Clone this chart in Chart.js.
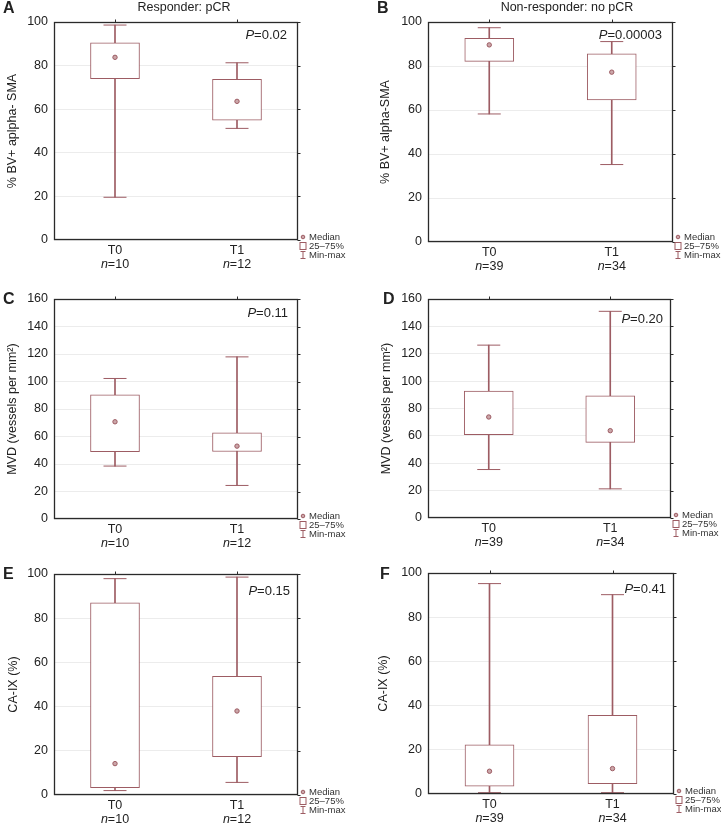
<!DOCTYPE html>
<html>
<head>
<meta charset="utf-8">
<script src="https://cdn.jsdelivr.net/npm/chart.js@4.4.1/dist/chart.umd.min.js"></script>
<style>
  body { margin: 0; background: #fff; }
  #wrap { position: relative; width: 721px; height: 827px; }
  canvas { position: absolute; }
</style>
</head>
<body>
<div id="wrap">
  <canvas id="pA" width="360" height="270" style="left:0;top:0"></canvas>
  <canvas id="pB" width="361" height="270" style="left:360px;top:0"></canvas>
  <canvas id="pC" width="360" height="280" style="left:0;top:270px"></canvas>
  <canvas id="pD" width="361" height="280" style="left:360px;top:270px"></canvas>
  <canvas id="pE" width="360" height="277" style="left:0;top:550px"></canvas>
  <canvas id="pF" width="361" height="277" style="left:360px;top:550px"></canvas>
</div>
<script>
const categories = ['T0', 'T1'];
const nResponder = ['10', '12'];
const nNonResponder = ['39', '34'];

// A - responder, % BV+ alpha-SMA
const smaRespMin = [19.6, 51.2];
const smaRespQ1 = [74.0, 55.0];
const smaRespMed = [83.8, 63.6];
const smaRespQ3 = [90.4, 73.7];
const smaRespMax = [98.6, 81.3];
// B - non-responder, % BV+ alpha-SMA
const smaNonMin = [58.2, 35.2];
const smaNonQ1 = [82.1, 64.6];
const smaNonMed = [89.6, 77.2];
const smaNonQ3 = [92.6, 85.5];
const smaNonMax = [97.4, 91.1];
// C - responder, MVD
const mvdRespMin = [38.5, 24.4];
const mvdRespQ1 = [48.9, 49.1];
const mvdRespMed = [70.7, 53.0];
const mvdRespQ3 = [90.3, 62.7];
const mvdRespMax = [102.2, 117.9];
// D - non-responder, MVD
const mvdNonMin = [35.4, 21.3];
const mvdNonQ1 = [60.8, 55.2];
const mvdNonMed = [73.8, 63.8];
const mvdNonQ3 = [92.8, 89.2];
const mvdNonMax = [126.3, 151.0];
// E - responder, CA-IX
const caRespMin = [2.0, 5.7];
const caRespQ1 = [3.3, 17.3];
const caRespMed = [14.2, 38.0];
const caRespQ3 = [86.9, 53.7];
const caRespMax = [97.9, 98.6];
// F - non-responder, CA-IX
const caNonMin = [0.6, 0.6];
const caNonQ1 = [3.5, 4.7];
const caNonMed = [10.3, 11.5];
const caNonQ3 = [22.2, 35.6];
const caNonMax = [95.2, 90.2];

const pValues = ['0.02', '0.00003', '0.11', '0.20', '0.15', '0.41'];
const legendLabels = ['Median', '25\u201375%', 'Min-max'];

const FONT = "'Liberation Sans', Arial, Helvetica, sans-serif";
const BOX = '#9d5c63';
const MED_FILL = '#cba6a9';
const INK = '#222';

// frame, panel letter, title, p value, n labels and the little legend
const decor = {
  id: 'decor',
  afterDraw(chart, args, o) {
    const ctx = chart.ctx, a = chart.chartArea;
    const xs = chart.scales.x, ys = chart.scales.y;
    ctx.save();
    const L = Math.round(a.left) + 0.5, R = Math.round(a.right) - 0.5;
    const T = Math.round(a.top) + 0.5, B = Math.round(a.bottom) - 0.5;
    ctx.strokeStyle = '#2a2a2a';
    ctx.lineWidth = 1.3;
    ctx.strokeRect(L, T, R - L, B - T);
    ctx.lineWidth = 1;
    ctx.beginPath();
    categories.forEach((c, i) => {
      const px = Math.round(xs.getPixelForValue(i)) + 0.5;
      ctx.moveTo(px, T); ctx.lineTo(px, T - 3);
    });
    ys.ticks.forEach(t => {
      const py = Math.round(ys.getPixelForValue(t.value)) + 0.5;
      ctx.moveTo(R, py); ctx.lineTo(R + 3, py);
    });
    ctx.stroke();

    ctx.fillStyle = INK;
    ctx.textBaseline = 'middle';
    // panel letter
    ctx.font = 'bold 16px ' + FONT;
    ctx.textAlign = 'left';
    ctx.fillText(o.letter, o.letterX, o.letterY);
    // group title
    if (o.title) {
      ctx.font = '12.5px ' + FONT;
      ctx.textAlign = 'center';
      ctx.fillText(o.title, o.titleX, 8);
    }
    // p value, italic P
    ctx.textAlign = 'left';
    ctx.font = '13px ' + FONT;
    const rest = '=' + o.p;
    const wRest = ctx.measureText(rest).width;
    ctx.font = 'italic 13px ' + FONT;
    const wP = ctx.measureText('P').width;
    const px0 = a.right - o.pDx - wRest - wP;
    const py0 = a.top + o.pDy;
    ctx.fillText('P', px0, py0);
    ctx.font = '13px ' + FONT;
    ctx.fillText(rest, px0 + wP, py0);
    // n labels under categories
    o.n.forEach((n, i) => {
      const cx = xs.getPixelForValue(i);
      ctx.font = 'italic 12.5px ' + FONT;
      const wn = ctx.measureText('n').width;
      ctx.font = '12.5px ' + FONT;
      const wv = ctx.measureText('=' + n).width;
      const sx = cx - (wn + wv) / 2;
      ctx.font = 'italic 12.5px ' + FONT;
      ctx.fillText('n', sx, a.bottom + 25);
      ctx.font = '12.5px ' + FONT;
      ctx.fillText('=' + n, sx + wn, a.bottom + 25);
    });
    // legend
    const lx = a.right + 5, tx = a.right + 11;
    const ly = [a.bottom + o.legDy, a.bottom + o.legDy + 9, a.bottom + o.legDy + 18];
    ctx.font = '9.5px ' + FONT;
    ctx.fillStyle = '#333';
    legendLabels.forEach((lab, i) => ctx.fillText(lab, tx, ly[i]));
    ctx.strokeStyle = BOX;
    ctx.fillStyle = MED_FILL;
    ctx.beginPath();
    ctx.arc(lx, ly[0], 1.8, 0, Math.PI * 2);
    ctx.fill(); ctx.stroke();
    ctx.strokeRect(lx - 3, ly[1] - 3.5, 6, 7);
    ctx.beginPath();
    ctx.moveTo(lx - 2.5, ly[2] - 3.5); ctx.lineTo(lx + 2.5, ly[2] - 3.5);
    ctx.moveTo(lx, ly[2] - 3.5); ctx.lineTo(lx, ly[2] + 3.5);
    ctx.moveTo(lx - 2.5, ly[2] + 3.5); ctx.lineTo(lx + 2.5, ly[2] + 3.5);
    ctx.stroke();
    ctx.restore();
  }
};

function boxPanel(id, s, lay) {
  const caps = (vals) => ({
    type: 'line', data: vals, showLine: false,
    pointStyle: 'line', pointRadius: 11.5, pointHoverRadius: 11.5,
    borderColor: BOX, pointBorderColor: BOX, pointBorderWidth: 1
  });
  return new Chart(document.getElementById(id), {
    type: 'bar',
    data: {
      labels: categories,
      datasets: [
        { type: 'line', data: s.med, showLine: false, pointStyle: 'circle',
          pointRadius: 2.2, pointBorderWidth: 1, pointBorderColor: BOX,
          pointBackgroundColor: MED_FILL },
        { data: s.q1.map((v, i) => [v, s.q3[i]]), backgroundColor: '#fff',
          borderColor: BOX, borderWidth: 1, borderSkipped: false,
          barThickness: 49, grouped: false },
        { data: s.min.map((v, i) => [v, s.max[i]]), backgroundColor: BOX,
          borderWidth: 0, barThickness: 1, grouped: false },
        caps(s.max),
        caps(s.min)
      ]
    },
    options: {
      responsive: false,
      animation: false,
      events: [],
      layout: { padding: { top: lay.top, right: lay.right, left: 0, bottom: 0 } },
      scales: {
        x: {
          grid: { display: false, drawTicks: false, tickLength: 0 },
          border: { display: false },
          ticks: { color: INK, padding: 3, font: { family: FONT, size: 12.5 } },
          afterFit: sc => { sc.height = lay.bottom; }
        },
        y: {
          min: 0, max: s.yMax,
          ticks: { stepSize: 20, padding: 6, color: INK, font: { family: FONT, size: 12.5 } },
          grid: { color: '#ececec', drawTicks: false },
          border: { display: false },
          title: { display: true, text: s.yTitle, color: INK,
                   font: { family: FONT, size: 12.5 }, padding: { top: lay.titlePad, bottom: 0 } },
          afterFit: sc => { sc.width = lay.left; }
        }
      },
      plugins: {
        legend: { display: false },
        tooltip: { enabled: false },
        decor: lay.decor
      }
    },
    plugins: [decor]
  });
}

boxPanel('pA',
  { min: smaRespMin, q1: smaRespQ1, med: smaRespMed, q3: smaRespQ3, max: smaRespMax,
    yMax: 100, yTitle: '% BV+ aplpha- SMA' },
  { left: 54, top: 22, right: 62, bottom: 30, titlePad: 5,
    decor: { letter: 'A', letterX: 3, letterY: 9, title: 'Responder: pCR', titleX: 184,
             p: pValues[0], pDx: 11, pDy: 13, n: nResponder, legDy: -3 } });

boxPanel('pB',
  { min: smaNonMin, q1: smaNonQ1, med: smaNonMed, q3: smaNonQ3, max: smaNonMax,
    yMax: 100, yTitle: '% BV+ alpha-SMA' },
  { left: 68, top: 22, right: 48, bottom: 28, titlePad: 18,
    decor: { letter: 'B', letterX: 17, letterY: 9, title: 'Non-responder: no pCR', titleX: 207,
             p: pValues[1], pDx: 11, pDy: 13, n: nNonResponder, legDy: -5 } });

boxPanel('pC',
  { min: mvdRespMin, q1: mvdRespQ1, med: mvdRespMed, q3: mvdRespQ3, max: mvdRespMax,
    yMax: 160, yTitle: 'MVD (vessels per mm\u00B2)' },
  { left: 54, top: 29, right: 62, bottom: 31, titlePad: 5,
    decor: { letter: 'C', letterX: 3, letterY: 30, title: null,
             p: pValues[2], pDx: 10, pDy: 14, n: nResponder, legDy: -3 } });

boxPanel('pD',
  { min: mvdNonMin, q1: mvdNonQ1, med: mvdNonMed, q3: mvdNonQ3, max: mvdNonMax,
    yMax: 160, yTitle: 'MVD (vessels per mm\u00B2)' },
  { left: 68, top: 29, right: 50, bottom: 32, titlePad: 19,
    decor: { letter: 'D', letterX: 23, letterY: 30, title: null,
             p: pValues[3], pDx: 8, pDy: 20, n: nNonResponder, legDy: -3 } });

boxPanel('pE',
  { min: caRespMin, q1: caRespQ1, med: caRespMed, q3: caRespQ3, max: caRespMax,
    yMax: 100, yTitle: 'CA-IX (%)' },
  { left: 54, top: 24, right: 62, bottom: 32, titlePad: 6,
    decor: { letter: 'E', letterX: 3, letterY: 25, title: null,
             p: pValues[4], pDx: 8, pDy: 17, n: nResponder, legDy: -3 } });

boxPanel('pF',
  { min: caNonMin, q1: caNonQ1, med: caNonMed, q3: caNonQ3, max: caNonMax,
    yMax: 100, yTitle: 'CA-IX (%)' },
  { left: 68, top: 23, right: 47, bottom: 33, titlePad: 16,
    decor: { letter: 'F', letterX: 20, letterY: 25, title: null,
             p: pValues[5], pDx: 8, pDy: 16, n: nNonResponder, legDy: -3 } });
</script>
</body>
</html>
